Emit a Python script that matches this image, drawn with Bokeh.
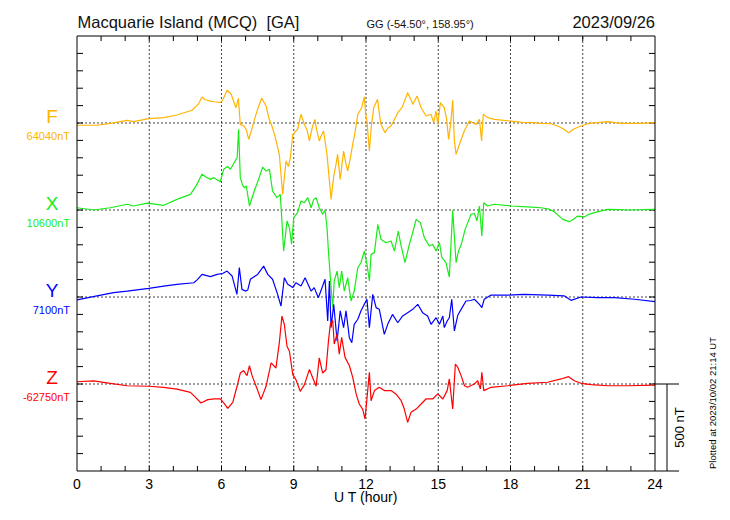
import math
from bokeh.plotting import figure
from bokeh.models import Range1d
from bokeh.core.properties import value
from bokeh.embed import file_html
from bokeh.resources import INLINE

# ---------------- data (deviation from baseline, nT) ----------------
F_hour = [0.0, 0.83, 1.38, 2.08, 2.35, 2.98, 3.6, 4.15, 4.78, 5.05, 5.19, 5.3, 5.54, 5.7, 5.95, 6.05, 6.23, 6.4, 6.6, 6.7,
          6.78, 6.93, 7.03, 7.13, 7.25, 7.35, 7.5, 7.67, 7.85, 7.98, 8.1, 8.22, 8.4, 8.54, 8.62, 8.68, 8.78, 8.86, 8.96, 9.16,
          9.3, 9.44, 9.55, 9.65, 9.78, 9.88, 9.95, 10.06, 10.15, 10.24, 10.38, 10.55, 10.66, 10.74, 10.82, 10.93, 11.07, 11.16, 11.24, 11.35,
          11.45, 11.55, 11.66, 11.82, 11.93, 11.98, 12.04, 12.14, 12.22, 12.32, 12.48, 12.55, 12.62, 12.79, 12.9, 13.04, 13.18, 13.32, 13.5, 13.73,
          13.85, 13.94, 14.12, 14.29, 14.49, 14.7, 14.81, 14.91, 14.98, 15.09, 15.25, 15.35, 15.43, 15.52, 15.6, 15.67, 15.74, 15.88, 16.08, 16.29,
          16.57, 16.71, 16.8, 16.87, 17.05, 17.33, 18.02, 18.5, 19.0, 19.27, 19.68, 19.96, 20.2, 20.41, 20.65, 20.93, 21.2, 21.62, 22.04, 22.59,
          23.42, 23.97, 24.0]
F_dev = [-13, -13, -2, 15, 8, 25, 31, 46, 73, 110, 150, 135, 126, 122, 118, 130, 188, 165, 88, 142,
         -8, -17, -40, -94, -40, 11, 80, 142, 98, 21, -20, -75, -180, -410, -300, -218, -250, -199, -65, -36,
         50, -8, -40, -103, -20, 21, -40, -103, -70, -46, -180, -439, -305, -250, -180, -324, -161, -230, -276, -200,
         -122, -50, 50, 88, 150, 60, 11, -161, -20, 88, 136, 60, -8, -56, -30, -17, 20, 59, 90, 174,
         140, 107, 155, 88, 40, 50, 2, 69, -8, 117, 88, 20, -94, 0, 130, -103, -180, -122, -46, 11,
         -8, 21, -103, 50, 31, 21, 11, 4, 2, -2, -4, -17, -35, -56, -33, -17, -4, 2, 8, -2,
         -2, 2, 0]

X_hour = [0.0, 0.69, 1.38, 2.08, 2.35, 2.91, 3.6, 4.15, 4.71, 4.95, 5.19, 5.35, 5.54, 5.68, 5.95, 6.09, 6.25, 6.37, 6.57, 6.65,
          6.71, 6.78, 6.88, 6.95, 7.03, 7.16, 7.36, 7.55, 7.71, 7.85, 7.99, 8.12, 8.3, 8.44, 8.5, 8.58, 8.72, 8.82, 8.91, 9.0,
          9.16, 9.3, 9.44, 9.58, 9.72, 9.83, 9.93, 10.06, 10.2, 10.3, 10.38, 10.44, 10.55, 10.62, 10.68, 10.8, 10.89, 10.99, 11.1, 11.24,
          11.38, 11.51, 11.66, 11.79, 11.93, 12.04, 12.14, 12.21, 12.35, 12.49, 12.62, 12.83, 13.04, 13.18, 13.34, 13.46, 13.62, 13.8, 13.94, 14.08,
          14.26, 14.42, 14.63, 14.77, 14.91, 15.05, 15.15, 15.32, 15.46, 15.6, 15.74, 15.84, 15.95, 16.12, 16.36, 16.5, 16.61, 16.71, 16.81, 16.89,
          17.05, 17.33, 18.02, 18.7, 19.27, 19.6, 19.82, 20.17, 20.44, 20.6, 20.79, 21.07, 21.25, 21.48, 22.04, 22.5, 22.87, 23.5, 24.0]
X_dev = [13, 0, 13, 33, 23, 40, 27, 61, 90, 140, 205, 190, 176, 186, 163, 234, 250, 234, 282, 300,
         464, 186, 140, 128, 138, 23, 109, 180, 247, 224, 234, 109, 71, 90, -44, -236, -63, -102, -197, -44,
         -15, 52, 42, 71, 13, 61, 71, 13, -25, 0, -100, -236, -447, -560, -408, -351, -447, -351, -466, -389,
         -523, -466, -332, -303, -236, -312, -408, -255, -245, -82, -168, -188, -178, -236, -121, -207, -303, -197, -130, -54,
         -73, -159, -207, -197, -236, -188, -274, -303, -385, -2, -303, -236, -200, -110, -25, -20, -63, 23, -149, 42,
         23, 33, 23, 18, 13, 5, -10, -54, -67, -55, -35, -40, -25, -15, 4, 2, 0, 2, 4]

Y_hour = [0.0, 0.83, 1.52, 2.08, 2.98, 3.6, 4.15, 4.85, 5.0, 5.19, 5.54, 5.82, 6.05, 6.23, 6.44, 6.64, 6.74, 6.85, 6.99, 7.09,
          7.2, 7.29, 7.5, 7.75, 7.92, 8.12, 8.33, 8.47, 8.61, 8.75, 8.96, 9.09, 9.3, 9.47, 9.72, 9.85, 10.02, 10.2, 10.3, 10.41,
          10.48, 10.55, 10.66, 10.8, 10.93, 11.07, 11.17, 11.31, 11.41, 11.51, 11.66, 11.79, 11.93, 12.04, 12.14, 12.28, 12.42, 12.55, 12.76, 12.9,
          13.1, 13.32, 13.52, 13.73, 13.94, 14.15, 14.35, 14.56, 14.7, 14.91, 15.05, 15.19, 15.25, 15.37, 15.46, 15.56, 15.67, 15.81, 16.01, 16.15,
          16.35, 16.5, 16.71, 16.81, 16.91, 17.19, 17.88, 18.57, 19.54, 20.24, 20.51, 20.93, 21.62, 22.32, 23.15, 24.0]
Y_dev = [-17, 6, 25, 34, 50, 63, 73, 82, 100, 130, 117, 130, 135, 149, 121, 15, 169, 44, 34, 40,
         102, 111, 130, 178, 130, 102, 15, -52, 111, 73, 54, 82, 63, 111, 34, 54, -4, 63, 102, -138,
         92, -176, -42, -253, -80, -176, -80, -234, -263, -157, -128, -80, -42, -13, -176, 15, -61, -70, -215, -157,
         -100, -148, -109, -90, -71, -42, -90, -109, -157, -119, -157, -109, -176, -138, -119, -13, -195, -105, -57, -23,
         -20, -13, -42, -61, -13, 11, 11, 15, 11, 6, -19, 0, -4, -4, -13, -27]

Z_hour = [0.0, 0.69, 1.38, 2.08, 2.98, 3.6, 4.15, 4.71, 4.87, 5.15, 5.43, 5.7, 5.95, 6.1, 6.26, 6.47, 6.67, 6.78, 6.92, 7.06,
          7.16, 7.27, 7.36, 7.48, 7.64, 7.85, 8.06, 8.26, 8.4, 8.51, 8.61, 8.72, 8.82, 8.96, 9.09, 9.27, 9.44, 9.65, 9.79, 9.93,
          10.06, 10.2, 10.34, 10.44, 10.52, 10.62, 10.68, 10.8, 10.89, 10.99, 11.13, 11.31, 11.45, 11.59, 11.72, 11.86, 11.96, 12.07, 12.14, 12.21,
          12.35, 12.55, 12.76, 13.04, 13.24, 13.46, 13.59, 13.73, 13.87, 14.08, 14.29, 14.49, 14.77, 14.98, 15.19, 15.37, 15.46, 15.6, 15.71, 15.81,
          15.95, 16.09, 16.22, 16.5, 16.64, 16.75, 16.81, 16.89, 17.19, 17.88, 18.71, 19.54, 20.1, 20.41, 20.65, 20.93, 21.35, 22.04, 22.87, 24.0]
Z_dev = [13, 18, 4, -10, -13, -19, -29, -48, -70, -109, -90, -86, -86, -110, -140, -105, 0, 63, 77, 48,
         105, 48, 15, -29, -90, -13, 121, 92, 236, 390, 342, 217, 188, 54, 25, -42, -5, 84, 34, -13,
         150, 63, 82, 245, 345, 364, 230, 288, 172, 268, 153, 105, 38, -57, -115, -144, -201, -38, 67, -96,
         -38, -19, -38, -38, -57, -96, -144, -220, -163, -144, -115, -86, -86, -57, -86, -38, 29, -144, 115, 96,
         48, -10, -19, 0, 19, -29, 67, -38, -19, -10, 4, 10, 29, 42, 19, 4, -4, -10, -10, -6]

components = ["F", "X", "Y", "Z"]
baseline_text = ["64040nT", "10600nT", "7100nT", "-62750nT"]
hour_ticks = [0, 3, 6, 9, 12, 15, 18, 21, 24]
scale_nT = 500
title_text = "Macquarie Island (MCQ) \u00a0[GA]"
coord_text = "GG (-54.50\u00b0, 158.95\u00b0)"
date_text = "2023/09/26"
plotted_text = "Plotted at 2023/10/02 21:14 UT"
xlabel_text = "U T (hour)"

series = [(F_hour, F_dev), (X_hour, X_dev), (Y_hour, Y_dev), (Z_hour, Z_dev)]
colors = ["#FFB400", "#18EC18", "#0000FF", "#FF0000"]
slots = [2000, 1500, 1000, 500]   # stacked baselines on the plot's nT scale
Y_TOP = 2500

# ---------------- layout ----------------
W, H = 722, 512
FONT = "Liberation Sans"
K = 578 / 24.0          # px per hour
NT = Y_TOP / 435.0      # nT per px
X0PX, Y0PX = 76.5, 470.5


def hx(px):
    return (px - X0PX) / K


def ny(py):
    return (Y0PX - py) * NT


p = figure(width=W, height=H, output_backend="svg", toolbar_location=None,
           x_range=Range1d(hx(0), hx(W)), y_range=Range1d(ny(H), ny(0)),
           x_axis_location=None, y_axis_location=None, min_border=0,
           min_border_left=0, min_border_right=0, min_border_top=0, min_border_bottom=0)
p.outline_line_color = None
p.grid.visible = False
p.background_fill_color = "white"
p.border_fill_color = "white"

# dotted grid
gx = hour_ticks[1:-1]
p.segment(x0=gx, y0=[0] * len(gx), x1=gx, y1=[Y_TOP] * len(gx),
          line_color="#444444", line_dash="2 2", line_width=1)
p.segment(x0=[0] * len(slots), y0=slots, x1=[24] * len(slots), y1=slots,
          line_color="#444444", line_dash="2 2", line_width=1)

# ticks
hours_minor = list(range(1, 24))
tl_x = 5 * NT
p.segment(x0=hours_minor, y0=[0] * 23, x1=hours_minor, y1=[tl_x] * 23, line_color="black", line_width=1)
p.segment(x0=hours_minor, y0=[Y_TOP] * 23, x1=hours_minor, y1=[Y_TOP - tl_x] * 23, line_color="black", line_width=1)
nt_ticks = list(range(100, Y_TOP, 100))
tl_y = 6 / K
p.segment(x0=[0] * len(nt_ticks), y0=nt_ticks, x1=[tl_y] * len(nt_ticks), y1=nt_ticks, line_color="black", line_width=1)
p.segment(x0=[24] * len(nt_ticks), y0=nt_ticks, x1=[24 - tl_y] * len(nt_ticks), y1=nt_ticks, line_color="black", line_width=1)

# traces
for (h, d), c, s in zip(series, colors, slots):
    p.line(h, [s + v for v in d], line_color=c, line_width=1.2)

# frame + scale bar
z0 = slots[-1]
bar_end = hx(678.5)
p.line(x=[0, 24, 24, 0, 0], y=[0, 0, Y_TOP, Y_TOP, 0], line_color="black", line_width=1)
p.segment(x0=[24, 24, hx(666.5)], y0=[0, z0, z0], x1=[bar_end, bar_end, hx(666.5)], y1=[0, z0, z0 - scale_nT],
          line_color="black", line_width=1)

# tick labels and axis label (positions are the visual centres of the texts)
p.text(x=hour_ticks, y=[ny(483)] * len(hour_ticks), text=[str(t) for t in hour_ticks],
       text_font=value(FONT), text_font_size=value("14px"), text_color="black",
       text_align="center", text_baseline="middle")
p.text(x=[12], y=[ny(496.5)], text=[xlabel_text], text_font=value(FONT), text_font_size=value("14px"),
       text_color="black", text_align="center", text_baseline="middle")

# component labels
p.text(x=[hx(51.5)] * 4, y=[s + 7 * NT for s in slots], text=components, text_color=colors,
       text_font=value(FONT), text_font_size=value("19px"), text_align="center", text_baseline="middle")
p.text(x=[hx(69.5)] * 4, y=[s - 12.5 * NT for s in slots], text=baseline_text, text_color=colors,
       text_font=value(FONT), text_font_size=value("11px"), text_align="right", text_baseline="middle")

# header
p.text(x=[hx(77)], y=[ny(21)], text=[title_text], text_font=value(FONT), text_font_size=value("16.5px"),
       text_color="#111111", text_align="left", text_baseline="middle")
p.text(x=[hx(366)], y=[ny(23.5)], text=[coord_text], text_font=value(FONT), text_font_size=value("11px"),
       text_color="#111111", text_align="left", text_baseline="middle")
p.text(x=[24], y=[ny(21)], text=[date_text], text_font=value(FONT), text_font_size=value("16.5px"),
       text_color="#111111", text_align="right", text_baseline="middle")

# rotated texts on the right
p.text(x=[hx(679)], y=[z0 - scale_nT / 2], text=["%d nT" % scale_nT], angle=math.pi / 2,
       text_font=value(FONT), text_font_size=value("13px"), text_color="black",
       text_align="center", text_baseline="middle")
p.text(x=[hx(712)], y=[ny(402.5)], text=[plotted_text], angle=math.pi / 2,
       text_font=value(FONT), text_font_size=value("9.5px"), text_color="black",
       text_align="center", text_baseline="middle")

open("out.html", "w").write(file_html(p, INLINE))
